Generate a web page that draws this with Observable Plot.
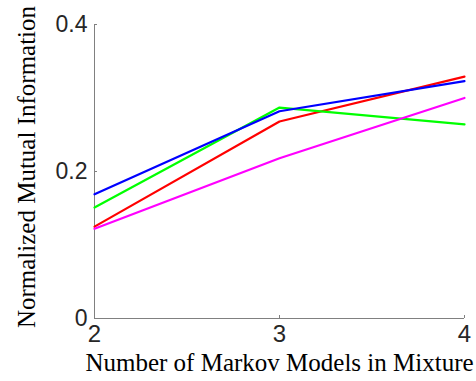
<!DOCTYPE html>
<html>
<head>
<meta charset="utf-8">
<script src="https://cdn.jsdelivr.net/npm/d3@7"></script>
<script src="https://cdn.jsdelivr.net/npm/@observablehq/plot@0.6"></script>
<style>
  html, body { margin: 0; padding: 0; background: #fff; }
  #chart { position: relative; width: 476px; height: 381px; }
  #ylabel {
    position: absolute; left: 26px; top: 167px;
    transform: translate(-50%, -50%) rotate(-90deg);
    white-space: nowrap;
    font-family: "Liberation Serif", "DejaVu Serif", serif;
    font-size: 25px; line-height: 1; color: #000;
  }
</style>
</head>
<body>
<div id="chart">
  <div id="ylabel">Normalized Mutual Information</div>
</div>
<script>
// Number of Markov models in the mixture
const models = [2, 3, 4];

// Normalized mutual information for each series
const redSeries = [0.125, 0.268, 0.329];
const greenSeries = [0.151, 0.287, 0.264];
const magentaSeries = [0.122, 0.218, 0.300];
const blueSeries = [0.169, 0.282, 0.323];

const yTicks = [0, 0.2, 0.4];
const xTicks = [2, 3, 4];

// Drawing order: later series sit on top
const series = [
  {name: "red", color: "#ff0000", values: redSeries},
  {name: "green", color: "#00ff00", values: greenSeries},
  {name: "magenta", color: "#ff00ff", values: magentaSeries},
  {name: "blue", color: "#0000ff", values: blueSeries}
];

const rows = series.flatMap((s) =>
  models.map((m, i) => ({series: s.name, color: s.color, x: m, y: s.values[i]}))
);

const axisColor = "#808080";
const sans = "'Liberation Sans', Arial, sans-serif";
const serif = "'Liberation Serif', 'DejaVu Serif', serif";

const chart = Plot.plot({
  width: 476,
  height: 381,
  marginLeft: 94,
  marginRight: 12,
  marginTop: 24,
  marginBottom: 63,
  x: {domain: [2, 4]},
  y: {domain: [0, 0.4]},
  style: {background: "transparent", overflow: "visible"},
  marks: [
    Plot.axisY({
      ticks: yTicks,
      tickFormat: (d) => d === 0 ? "0" : d3.format(".1f")(d),
      tickSize: -3,
      tickPadding: 10,
      stroke: axisColor,
      fill: "#262626",
      fontSize: 23,
      fontFamily: sans,
      label: null
    }),
    Plot.axisX({
      ticks: xTicks,
      tickFormat: (d) => String(d),
      tickSize: -3,
      tickPadding: 9,
      stroke: axisColor,
      fill: "#262626",
      fontSize: 24,
      fontFamily: sans,
      label: "Number of Markov Models in Mixture",
      labelAnchor: "center",
      labelArrow: "none",
      labelOffset: 52
    }),
    Plot.ruleX([2], {stroke: axisColor, strokeWidth: 1}),
    Plot.ruleY([0], {stroke: axisColor, strokeWidth: 1}),
    Plot.line(rows, {
      x: "x",
      y: "y",
      z: "series",
      stroke: "color",
      strokeWidth: 2.2
    })
  ]
});

// Serif face for the x-axis title
chart.querySelectorAll("g[aria-label='x-axis label'] text").forEach((t) => {
  t.setAttribute("font-family", serif);
  t.setAttribute("font-size", "25");
  t.setAttribute("fill", "#000");
});

document.getElementById("chart").prepend(chart);
</script>
</body>
</html>
